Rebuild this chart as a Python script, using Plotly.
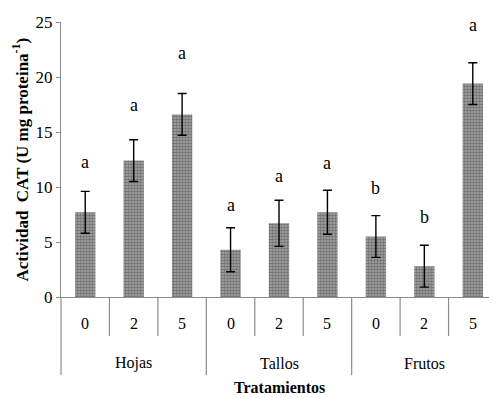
import plotly.graph_objects as go

groups = ["Hojas", "Tallos", "Frutos"]
doses = ["0", "2", "5"]
values = [7.7, 12.4, 16.6, 4.3, 6.7, 7.7, 5.5, 2.8, 19.4]
errors = [1.9, 1.9, 1.9, 2.0, 2.1, 2.0, 1.9, 1.9, 1.9]
letters = ["a", "a", "a", "a", "a", "a", "b", "b", "a"]
letter_y = [12.3, 17.5, 22.2, 8.4, 11.0, 12.2, 9.9, 7.3, 24.7]
y_ticks = [0, 5, 10, 15, 20, 25]

FONT = "Liberation Serif"
n = len(values)
xs = list(range(n))

fig = go.Figure()
fig.add_trace(go.Bar(
    x=xs, y=values, width=0.42,
    marker=dict(color="#6e6e6e",
                pattern=dict(shape=".", fgcolor="#3a3a3a", bgcolor="#a8a8a8", size=3, solidity=0.6),
                line=dict(width=0)),
    error_y=dict(type="data", array=errors, visible=True, color="black", thickness=1.4, width=4.5),
))

annotations = []
for i in xs:
    annotations.append(dict(x=i, y=letter_y[i], xref="x", yref="y", text=letters[i],
                            showarrow=False, font=dict(family=FONT, size=18, color="black")))
    annotations.append(dict(x=i, y=0, xref="x", yref="y", text=doses[i % 3], yshift=-26,
                            showarrow=False, font=dict(family=FONT, size=16, color="black")))
for g, name in enumerate(groups):
    annotations.append(dict(x=g * 3 + 1, y=0, xref="x", yref="y", text=name, yshift=-66,
                            showarrow=False, font=dict(family=FONT, size=16, color="black")))
annotations.append(dict(x=0.5, y=0, xref="paper", yref="y", text="<b>Tratamientos</b>", yshift=-90,
                        showarrow=False, font=dict(family=FONT, size=16, color="black")))
annotations.append(dict(x=0, y=0.5, xref="paper", yref="paper", xshift=-41,
                        xanchor="center", yanchor="middle",
                        text="<b>Actividad  CAT (U mg proteina<sup>-1</sup>)</b>", textangle=-90,
                        showarrow=False, font=dict(family=FONT, size=17, color="black")))

shapes = []
for b in range(1, n + 1):
    xb = b - 0.5
    long = (b % 3 == 0)
    shapes.append(dict(type="line", xref="x", yref="paper", x0=xb, x1=xb, y0=0,
                       y1=-0.284 if long else -0.142, line=dict(color="#8c8c8c", width=1.2)))
shapes.append(dict(type="line", xref="paper", yref="paper", x0=0, x1=0, y0=0, y1=-0.284,
                   line=dict(color="#8c8c8c", width=1.2)))

# page body has an 8px margin, so the figure is sized to fit the 497x398 window
fig.update_layout(
    width=489, height=390,
    margin=dict(l=53, r=0, t=14, b=101),
    paper_bgcolor="white", plot_bgcolor="white",
    showlegend=False,
    font=dict(family=FONT, size=16, color="black"),
    annotations=annotations, shapes=shapes,
    xaxis=dict(range=[-0.5, n - 0.5], showticklabels=False, ticks="", showgrid=False,
               zeroline=False, showline=True, linecolor="#8c8c8c", linewidth=1.2),
    yaxis=dict(range=[0, 25], tickvals=y_ticks, ticks="outside", ticklen=4, tickcolor="#8c8c8c",
               showgrid=False, zeroline=False, showline=True, linecolor="#8c8c8c", linewidth=1.2,
               tickfont=dict(family=FONT, size=17, color="black")),
)

fig.write_html("out.html")
